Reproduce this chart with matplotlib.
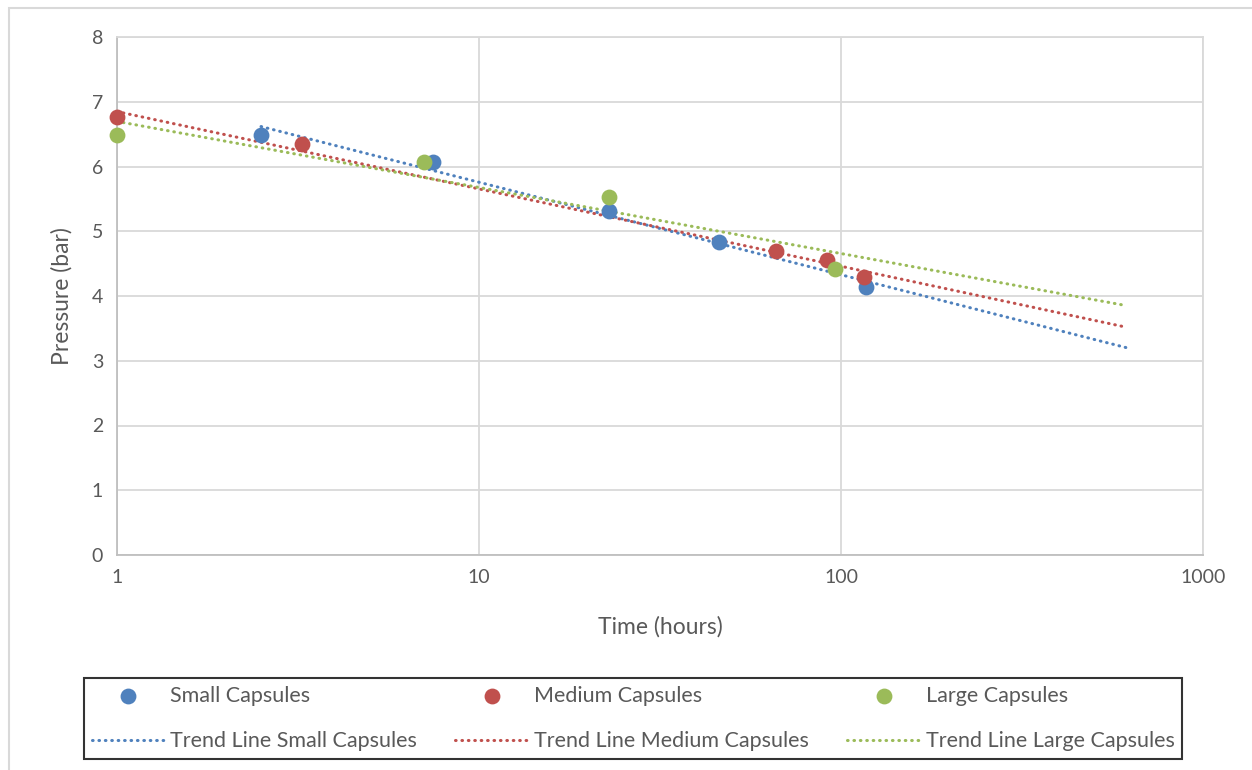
import matplotlib.pyplot as plt
import numpy as np
from matplotlib.patches import Rectangle

plt.rcParams['font.family'] = ['Lato', 'DejaVu Sans']

# data
small_t = [2.5, 7.46, 22.9, 46.0, 117.0]
small_p = [6.49, 6.07, 5.31, 4.83, 4.14]
medium_t = [1.0, 3.24, 66.0, 91.5, 116.0]
medium_p = [6.76, 6.35, 4.69, 4.56, 4.29]
large_t = [1.0, 7.05, 22.9, 96.0]
large_p = [6.49, 6.07, 5.53, 4.42]

FORECAST = 500  # trend lines extended forward (hours)

COLORS = {
    'blue': '#4F81BD',
    'red': '#C0504D',
    'green': '#9BBB59',
}
GRID = '#D9D9D9'
TEXT = '#595959'

fig = plt.figure(figsize=(12.52, 7.7), dpi=100)
fig.patches.append(Rectangle((9 / 1252, -0.1), 1.2, 1 - 8 / 770 + 0.1,
                             transform=fig.transFigure, fill=False,
                             edgecolor=GRID, linewidth=1.5))
ax = fig.add_axes([117 / 1252, 1 - 555 / 770, (1203 - 117) / 1252, (555 - 37) / 770])

series = [
    ('Small Capsules', small_t, small_p, COLORS['blue']),
    ('Medium Capsules', medium_t, medium_p, COLORS['red']),
    ('Large Capsules', large_t, large_p, COLORS['green']),
]

hs, ls = [], []
for label, t, p, c in series:
    sc = ax.scatter(t, p, s=130, color=c, zorder=3, linewidths=0, clip_on=False)
    # logarithmic trend line, y = a ln(x) + b
    a, b = np.polyfit(np.log(t), p, 1)
    xs = np.logspace(np.log10(min(t)), np.log10(max(t) + FORECAST), 200)
    ln, = ax.plot(xs, a * np.log(xs) + b, color=c, linewidth=2.2,
                  linestyle=(0, (0.2, 1.9)), dash_capstyle='round', zorder=2)
    hs += [sc, ln]
    ls += [label, 'Trend Line ' + label]

ax.set_xscale('log')
ax.set_xlim(1, 1000)
ax.set_ylim(0, 8)
ax.set_xticks([1, 10, 100, 1000])
ax.set_xticklabels(['1', '10', '100', '1000'])
ax.set_yticks(range(0, 9))
ax.minorticks_off()
ax.grid(True, color=GRID, linewidth=1.3)
ax.set_axisbelow(True)
for s in ax.spines.values():
    s.set_color(GRID)
    s.set_linewidth(1.3)
ax.spines['left'].set_color('#BFBFBF')
ax.spines['bottom'].set_color('#BFBFBF')
ax.tick_params(length=0, labelsize=14, colors=TEXT, pad=10)
ax.set_xlabel('Time (hours)', fontsize=16.5, color=TEXT, labelpad=22)
ax.set_ylabel('Pressure (bar)', fontsize=16.5, color=TEXT, labelpad=14)

leg = fig.legend(hs, ls, loc='lower left',
                 bbox_to_anchor=(84 / 1252, 1 - 759 / 770, (1182 - 84) / 1252, (759 - 672) / 770),
                 mode='expand', ncol=3, fontsize=15.5, frameon=True, fancybox=False,
                 edgecolor='black', handlelength=3.4, handletextpad=0.25,
                 borderaxespad=0, labelspacing=1.2, borderpad=0.35, columnspacing=0.5)
leg.get_frame().set_linewidth(1.5)
for t in leg.get_texts():
    t.set_color(TEXT)

fig.savefig('out.png', dpi=100)
